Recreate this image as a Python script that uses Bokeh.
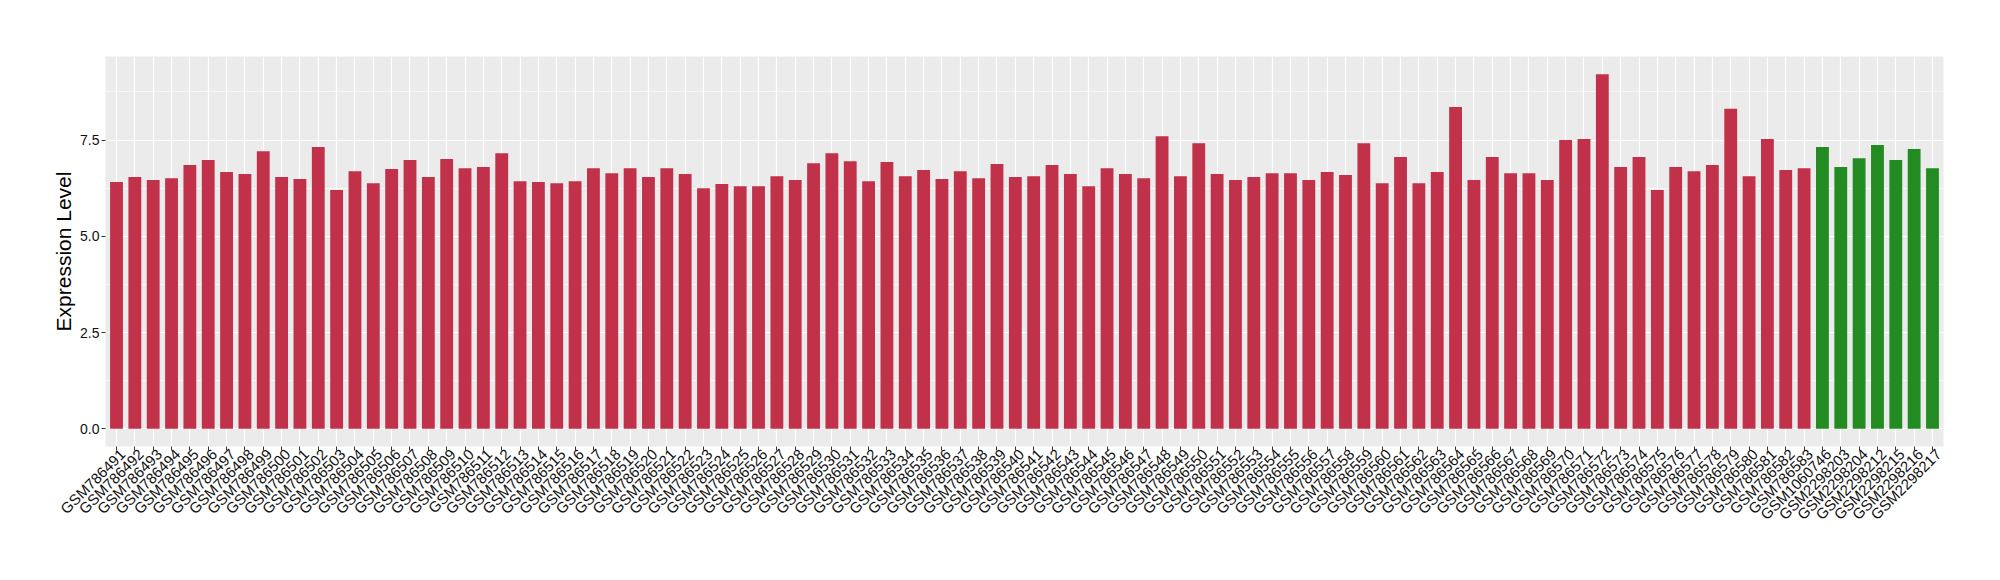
import math
from bokeh.plotting import figure
from bokeh.models import ColumnDataSource, Range1d, FixedTicker, LinearAxis
from bokeh.embed import file_html
from bokeh.resources import INLINE

red_samples = ["GSM%d" % n for n in range(786491, 786584)]
green_samples = ["GSM1060746", "GSM2298203", "GSM2298204", "GSM2298212",
                 "GSM2298215", "GSM2298216", "GSM2298217"]

red_values = [6.41, 6.54, 6.46, 6.51, 6.85, 6.98, 6.67, 6.62, 7.21, 6.54,
              6.49, 7.32, 6.20, 6.69, 6.38, 6.75, 6.98, 6.54, 7.01, 6.77,
              6.80, 7.16, 6.43, 6.41, 6.38, 6.43, 6.77, 6.64, 6.77, 6.54,
              6.77, 6.62, 6.25, 6.36, 6.30, 6.30, 6.56, 6.46, 6.90, 7.16,
              6.95, 6.43, 6.93, 6.56, 6.72, 6.49, 6.69, 6.51, 6.88, 6.54,
              6.56, 6.85, 6.62, 6.30, 6.77, 6.62, 6.51, 7.60, 6.56, 7.42,
              6.62, 6.46, 6.54, 6.64, 6.64, 6.46, 6.67, 6.59, 7.42, 6.38,
              7.06, 6.38, 6.67, 8.36, 6.46, 7.06, 6.64, 6.64, 6.46, 7.50,
              7.53, 9.21, 6.80, 7.06, 6.20, 6.80, 6.69, 6.85, 8.31, 6.56,
              7.53, 6.72, 6.77]
green_values = [7.32, 6.80, 7.03, 7.37, 6.98, 7.27, 6.77]

y_ticks = [0.0, 2.5, 5.0, 7.5]
y_minor = [1.25, 3.75, 6.25, 8.75]

RED = "#C2314A"
GREEN = "#228B22"
FONT = "Liberation Sans"

samples = red_samples + green_samples
values = red_values + green_values
colors = [RED] * len(red_samples) + [GREEN] * len(green_samples)
xs = list(range(len(samples)))

FRAME_W = 1838
vmax = max(values)
pad = 0.05 * vmax
xa, xb = -0.6, len(samples) - 1 + 0.6
shift = 6 * (xb - xa) / FRAME_W  # labels sit ~6px right of their tick

src = ColumnDataSource(dict(x=xs, top=values, color=colors))

p = figure(width=1984, height=564, output_backend="svg", toolbar_location=None,
           x_range=Range1d(xa, xb),
           y_range=Range1d(-pad, vmax + pad),
           min_border_left=105, min_border_right=41, min_border_top=56,
           min_border_bottom=118)
p.background_fill_color = "#EBEBEB"
p.border_fill_color = "white"
p.outline_line_color = None
p.extra_x_ranges = {"lab": Range1d(xa - shift, xb - shift)}

p.vbar(x="x", top="top", bottom=0, width=0.7, fill_color="color",
       line_color=None, source=src)

xt = FixedTicker(ticks=xs, minor_ticks=[])
p.xaxis.ticker = xt
p.xgrid.ticker = xt
p.xaxis.major_label_overrides = {i: "" for i in xs}
p.xaxis.major_label_text_font_size = "1px"
p.xaxis.major_label_standoff = 0
p.xaxis.major_tick_out = 4

lab_axis = LinearAxis(x_range_name="lab", ticker=FixedTicker(ticks=xs, minor_ticks=[]),
                      major_label_overrides={i: s for i, s in enumerate(samples)},
                      major_label_orientation=math.pi / 4,
                      axis_line_color=None, major_tick_line_color=None,
                      minor_tick_line_color=None, major_tick_in=0, major_tick_out=0,
                      major_label_standoff=1, major_label_text_font=FONT,
                      major_label_text_font_size="15px",
                      major_label_text_color="#111111")
p.add_layout(lab_axis, "below")

yt = FixedTicker(ticks=y_ticks, minor_ticks=y_minor)
p.yaxis.ticker = yt
p.ygrid.ticker = yt
p.yaxis.major_label_overrides = {t: "%.1f" % t for t in y_ticks}
p.yaxis.major_label_text_font = FONT
p.yaxis.major_label_text_font_size = "14px"
p.yaxis.major_label_text_color = "#111111"
p.yaxis.major_label_standoff = 2
p.yaxis.major_tick_out = 4

for g in (p.xgrid, p.ygrid):
    g.grid_line_color = "white"
    g.grid_line_width = 1.2
p.ygrid.minor_grid_line_color = "white"
p.ygrid.minor_grid_line_width = 0.6

for ax in (p.xaxis[0], p.yaxis[0]):
    ax.axis_line_color = None
    ax.major_tick_in = 0
    ax.major_tick_line_color = "#333333"
    ax.major_tick_line_width = 1
    ax.minor_tick_line_color = None

p.yaxis.axis_label = "Expression Level"
p.yaxis.axis_label_text_font = FONT
p.yaxis.axis_label_text_font_size = "21px"
p.yaxis.axis_label_text_font_style = "normal"
p.yaxis.axis_label_text_color = "black"
p.yaxis.axis_label_standoff = 2

open("out.html", "w").write(file_html(p, INLINE))
